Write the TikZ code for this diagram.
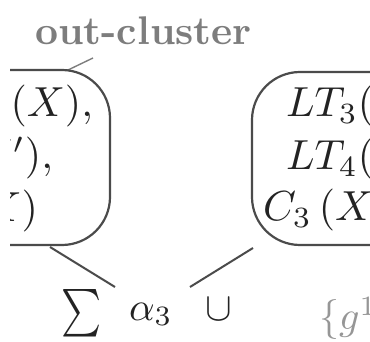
\documentclass[tikz,border=0pt]{standalone}
\definecolor{boxline}{RGB}{75,75,75}
\definecolor{ink}{RGB}{35,35,35}
\definecolor{labgray}{RGB}{125,125,125}
\definecolor{fadegray}{RGB}{150,150,150}
\newcommand{\scaleM}[1]{\scalebox{4.2}{#1}}
\newcommand{\scaleB}[1]{\scalebox{4.0}{#1}}
\tikzset{
  cluster/.style={draw=boxline,line width=2.2pt,rounded corners=48pt},
  conn/.style={draw=boxline,line width=2pt},
  mtext/.style={inner sep=0pt,outer sep=0pt,text=ink},
}
\begin{document}
\begin{tikzpicture}[x=1pt,y=-1pt]
\useasboundingbox (0,0) rectangle (370,342);
\clip (10,0) rectangle (370,342);
% out-cluster label
\node[inner sep=0pt,anchor=base west,text=labgray] (lab) at (35,45) {\scaleB{\bfseries out-cluster}};
\coordinate (labA) at (93,58);
\coordinate (labB) at (68,70);
\draw[labgray,line width=1.4pt] (labA) -- (labB);
% left cluster
\draw[cluster] (-120,70) rectangle (110,245);
\node[mtext,anchor=base east] (l1) at (93,117) {\scaleM{$LT_1(X),$}};
\node[mtext,anchor=base east] (l2) at (53,169) {\scaleM{$LT_2(X'),$}};
\node[mtext,anchor=base east] (l3) at (38,222) {\scaleM{$C_1(X)$}};
% right cluster
\draw[cluster] (252,72) rectangle (500,245);
\node[mtext,anchor=base west] (r1) at (286,117) {\scaleM{$LT_3(X),$}};
\node[mtext,anchor=base west] (r2) at (286,170) {\scaleM{$LT_4(X'),$}};
\node[mtext,anchor=base west] (r3) at (263,221) {\scaleM{$C_3\,(X)$}};
% bottom formula
\node[mtext] (sum) at (82,313) {\scalebox{3.8}[4.75]{$\textstyle\sum$}};
\node[mtext,anchor=base west] (alpha) at (129,320) {\scaleB{$\alpha_3$}};
\node[mtext,anchor=base west] (cup) at (205,320) {\scaleB{$\cup$}};
\node[mtext,anchor=base west,text=fadegray] (g) at (319,330) {\scaleB{$\{g^1$}};
% connectors
\coordinate (lbot) at (50,247);
\coordinate (rbot) at (253,248);
\coordinate (ea) at (115,287);
\coordinate (eb) at (190,287);
\draw[conn] (lbot) -- (ea);
\draw[conn] (eb) -- (rbot);
\end{tikzpicture}
\end{document}
